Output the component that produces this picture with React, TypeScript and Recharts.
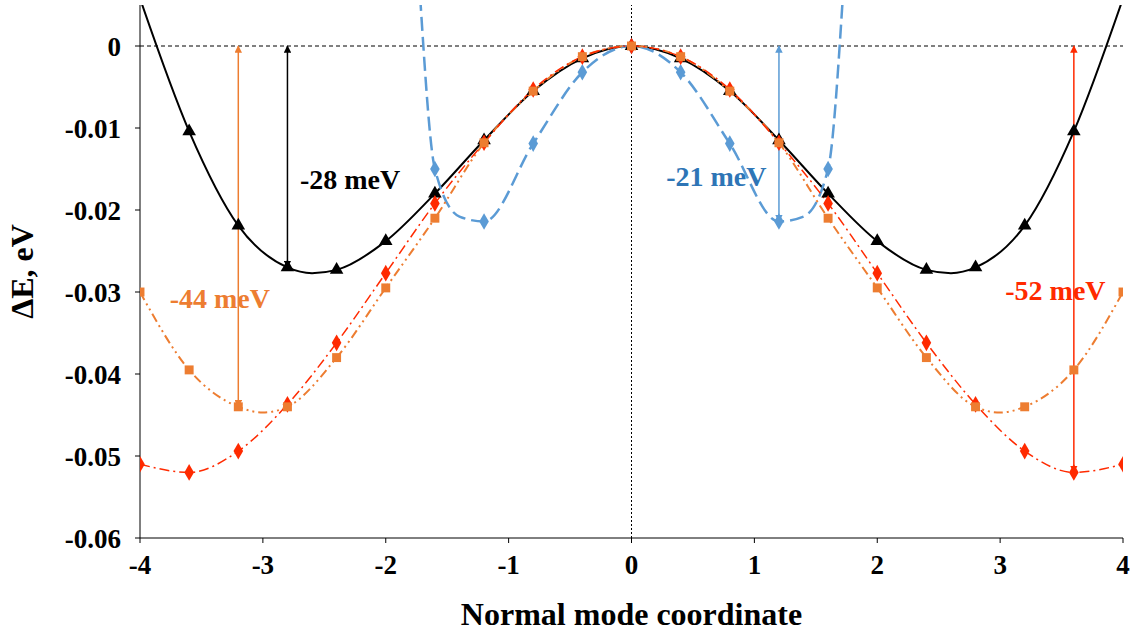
import React from 'react';
import {
  ComposedChart,
  Line,
  Scatter,
  XAxis,
  YAxis,
  ZAxis,
  ReferenceLine,
  ReferenceDot,
} from 'recharts';

// marker values (symmetric about 0)
const blackPts = [
  { x: -3.6, y: -0.0104 }, { x: -3.2, y: -0.0219 }, { x: -2.8, y: -0.027 }, { x: -2.4, y: -0.0273 },
  { x: -2.0, y: -0.0238 }, { x: -1.6, y: -0.018 }, { x: -1.2, y: -0.0115 }, { x: -0.8, y: -0.0055 },
  { x: -0.4, y: -0.0015 }, { x: 0, y: 0 }, { x: 0.4, y: -0.0015 }, { x: 0.8, y: -0.0055 },
  { x: 1.2, y: -0.0115 }, { x: 1.6, y: -0.018 }, { x: 2.0, y: -0.0238 }, { x: 2.4, y: -0.0273 },
  { x: 2.8, y: -0.027 }, { x: 3.2, y: -0.0219 }, { x: 3.6, y: -0.0104 },
];
const blackCurve = [
  { x: -4, y: 0.0058 }, { x: -3.6, y: -0.0104 }, { x: -3.2, y: -0.0219 }, { x: -2.8, y: -0.027 },
  { x: -2.6, y: -0.0277 }, { x: -2.4, y: -0.0273 }, { x: -2.0, y: -0.0238 }, { x: -1.6, y: -0.018 },
  { x: -1.2, y: -0.0115 }, { x: -0.8, y: -0.0055 }, { x: -0.4, y: -0.0015 }, { x: 0, y: 0 },
  { x: 0.4, y: -0.0015 }, { x: 0.8, y: -0.0055 }, { x: 1.2, y: -0.0115 }, { x: 1.6, y: -0.018 },
  { x: 2.0, y: -0.0238 }, { x: 2.4, y: -0.0273 }, { x: 2.6, y: -0.0277 }, { x: 2.8, y: -0.027 },
  { x: 3.2, y: -0.0219 }, { x: 3.6, y: -0.0104 }, { x: 4, y: 0.0058 },
];

const bluePts = [
  { x: -1.6, y: -0.015 }, { x: -1.2, y: -0.0214 }, { x: -0.8, y: -0.0119 }, { x: -0.4, y: -0.0032 },
  { x: 0, y: 0 }, { x: 0.4, y: -0.0032 }, { x: 0.8, y: -0.0119 }, { x: 1.2, y: -0.0214 }, { x: 1.6, y: -0.015 },
];
const blueCurve = [
  { x: -1.72, y: 0.006 }, { x: -1.6, y: -0.015 }, { x: -1.4, y: -0.0208 }, { x: -1.2, y: -0.0214 },
  { x: -0.8, y: -0.0119 }, { x: -0.4, y: -0.0032 }, { x: 0, y: 0 }, { x: 0.4, y: -0.0032 },
  { x: 0.8, y: -0.0119 }, { x: 1.2, y: -0.0214 }, { x: 1.4, y: -0.0208 }, { x: 1.6, y: -0.015 },
  { x: 1.72, y: 0.006 },
];

const orangePts = [
  { x: -4, y: -0.03 }, { x: -3.6, y: -0.0395 }, { x: -3.2, y: -0.044 }, { x: -2.8, y: -0.044 },
  { x: -2.4, y: -0.038 }, { x: -2.0, y: -0.0295 }, { x: -1.6, y: -0.021 }, { x: -1.2, y: -0.0118 },
  { x: -0.8, y: -0.0055 }, { x: -0.4, y: -0.0013 }, { x: 0, y: 0 }, { x: 0.4, y: -0.0013 },
  { x: 0.8, y: -0.0055 }, { x: 1.2, y: -0.0118 }, { x: 1.6, y: -0.021 }, { x: 2.0, y: -0.0295 },
  { x: 2.4, y: -0.038 }, { x: 2.8, y: -0.044 }, { x: 3.2, y: -0.044 }, { x: 3.6, y: -0.0395 }, { x: 4, y: -0.03 },
];
const orangeCurve = [
  { x: -4, y: -0.03 }, { x: -3.6, y: -0.0395 }, { x: -3.2, y: -0.044 }, { x: -3.0, y: -0.0447 },
  { x: -2.8, y: -0.044 }, { x: -2.4, y: -0.038 }, { x: -2.0, y: -0.0295 }, { x: -1.6, y: -0.021 },
  { x: -1.2, y: -0.0118 }, { x: -0.8, y: -0.0055 }, { x: -0.4, y: -0.0013 }, { x: 0, y: 0 },
  { x: 0.4, y: -0.0013 }, { x: 0.8, y: -0.0055 }, { x: 1.2, y: -0.0118 }, { x: 1.6, y: -0.021 },
  { x: 2.0, y: -0.0295 }, { x: 2.4, y: -0.038 }, { x: 2.8, y: -0.044 }, { x: 3.0, y: -0.0447 },
  { x: 3.2, y: -0.044 }, { x: 3.6, y: -0.0395 }, { x: 4, y: -0.03 },
];

const redPts = [
  { x: -4, y: -0.051 }, { x: -3.6, y: -0.052 }, { x: -3.2, y: -0.0494 }, { x: -2.8, y: -0.0437 },
  { x: -2.4, y: -0.0362 }, { x: -2.0, y: -0.0277 }, { x: -1.6, y: -0.0192 }, { x: -1.2, y: -0.0118 },
  { x: -0.8, y: -0.0053 }, { x: -0.4, y: -0.0013 }, { x: 0, y: 0 }, { x: 0.4, y: -0.0013 },
  { x: 0.8, y: -0.0053 }, { x: 1.2, y: -0.0118 }, { x: 1.6, y: -0.0192 }, { x: 2.0, y: -0.0277 },
  { x: 2.4, y: -0.0362 }, { x: 2.8, y: -0.0437 }, { x: 3.2, y: -0.0494 }, { x: 3.6, y: -0.052 }, { x: 4, y: -0.051 },
];

const xTicks = [-4, -3, -2, -1, 0, 1, 2, 3, 4];
const yTicks = [0, -0.01, -0.02, -0.03, -0.04, -0.05, -0.06];

const BLACK = '#000000';
const BLUE = '#5b9bd5';
const BLUE_TEXT = '#2e75b6';
const ORANGE = '#ed7d31';
const RED = '#ff2a00';
const FONT = '"Liberation Serif", serif';

const Markers = () => (
  <svg width={0} height={0} style={{ position: 'absolute' }}>
    <defs>
      {[['aBlack', BLACK], ['aOrange', ORANGE], ['aBlue', BLUE], ['aRed', RED]].map(([id, c]) => (
        <marker key={id} id={id} viewBox="0 0 10 10" refX="9" refY="5" markerWidth="5" markerHeight="5" orient="auto-start-reverse">
          <path d="M0,0 L10,5 L0,10 z" fill={c} />
        </marker>
      ))}
    </defs>
  </svg>
);

const label = (text: string, fill: string) => ({
  value: text,
  position: 'center' as const,
  fill,
  fontSize: 28,
  fontWeight: 'bold',
  fontFamily: FONT,
});

export default function App() {
  return (
    <div style={{ position: 'absolute', left: 0, top: 0, width: 1142, height: 637, background: '#fff' }}>
      <Markers />
      <ComposedChart width={1142} height={637} margin={{ top: 5, right: 19, bottom: 6, left: 22 }}>
        <XAxis
          type="number"
          dataKey="x"
          domain={[-4, 4]}
          ticks={xTicks}
          allowDataOverflow
          stroke="#000"
          tickSize={5}
          tick={{ fill: '#000', fontSize: 27, fontWeight: 'bold', fontFamily: FONT }}
          tickMargin={12}
          height={93}
          label={{ value: 'Normal mode coordinate', position: 'insideBottom', offset: 6, fill: '#000', fontSize: 32, fontWeight: 'bold', fontFamily: FONT }}
        />
        <YAxis
          type="number"
          dataKey="y"
          domain={[-0.06, 0.005]}
          ticks={yTicks}
          allowDataOverflow
          stroke="#000"
          tickSize={5}
          tickFormatter={(v: number) => (v === 0 ? '0' : v.toFixed(2))}
          tick={{ fill: '#000', fontSize: 27, fontWeight: 'bold', fontFamily: FONT }}
          tickMargin={14}
          width={118}
          label={{ value: 'ΔE, eV', angle: -90, position: 'insideLeft', offset: 0, fill: '#000', fontSize: 32, fontWeight: 'bold', fontFamily: FONT, style: { textAnchor: 'middle' } }}
        />
        <ZAxis range={[80, 80]} />
        <ReferenceLine y={0} stroke="#000" strokeDasharray="4 3" strokeWidth={1} />
        <ReferenceLine x={0} stroke="#000" strokeDasharray="2 2" strokeWidth={1} />

        <Line data={blackCurve} dataKey="y" type="monotone" stroke={BLACK} strokeWidth={2} dot={false} isAnimationActive={false} />
        <Line data={blueCurve} dataKey="y" type="monotone" stroke={BLUE} strokeWidth={2.5} strokeDasharray="14 6" dot={false} isAnimationActive={false} />
        <Line data={orangeCurve} dataKey="y" type="monotone" stroke={ORANGE} strokeWidth={2} strokeDasharray="9 4 2 4 2 4" dot={false} isAnimationActive={false} />
        <Line data={redPts} dataKey="y" type="monotone" stroke={RED} strokeWidth={1.5} strokeDasharray="10 4 2 4" dot={false} isAnimationActive={false} />

        <Scatter data={blackPts} fill={BLACK} shape="triangle" isAnimationActive={false} />
        <Scatter data={bluePts} fill={BLUE} shape="diamond" isAnimationActive={false} />
        <Scatter data={redPts} fill={RED} shape="diamond" isAnimationActive={false} />
        <Scatter data={orangePts} fill={ORANGE} shape="square" isAnimationActive={false} />

        <ReferenceLine segment={[{ x: -2.8, y: 0 }, { x: -2.8, y: -0.027 }]} stroke={BLACK} strokeWidth={1.5} markerStart="url(#aBlack)" markerEnd="url(#aBlack)" />
        <ReferenceLine segment={[{ x: -3.2, y: 0 }, { x: -3.2, y: -0.044 }]} stroke={ORANGE} strokeWidth={1.5} markerStart="url(#aOrange)" markerEnd="url(#aOrange)" />
        <ReferenceLine segment={[{ x: 1.2, y: 0 }, { x: 1.2, y: -0.0214 }]} stroke={BLUE} strokeWidth={1.5} markerStart="url(#aBlue)" markerEnd="url(#aBlue)" />
        <ReferenceLine segment={[{ x: 3.6, y: 0 }, { x: 3.6, y: -0.052 }]} stroke={RED} strokeWidth={1.5} markerStart="url(#aRed)" markerEnd="url(#aRed)" />

        <ReferenceDot x={-2.29} y={-0.0162} r={0} fill="none" stroke="none" label={label('-28 meV', BLACK)} />
        <ReferenceDot x={-3.35} y={-0.0307} r={0} fill="none" stroke="none" label={label('-44 meV', ORANGE)} />
        <ReferenceDot x={0.69} y={-0.0158} r={0} fill="none" stroke="none" label={label('-21 meV', BLUE_TEXT)} />
        <ReferenceDot x={3.45} y={-0.0298} r={0} fill="none" stroke="none" label={label('-52 meV', RED)} />
      </ComposedChart>
    </div>
  );
}
